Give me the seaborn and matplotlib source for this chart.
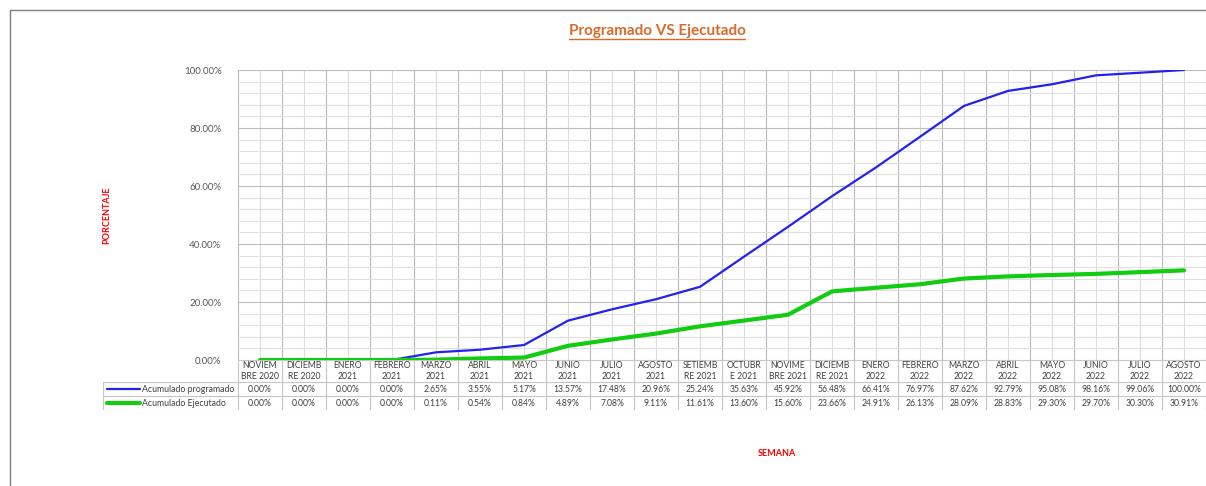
import matplotlib
matplotlib.use("Agg")
import matplotlib.pyplot as plt
from matplotlib.lines import Line2D
from matplotlib.ticker import MultipleLocator, FuncFormatter
import seaborn as sns
import pandas as pd
import numpy as np

# --- DATA ---
meses = ["NOVIEM\nBRE 2020", "DICIEMB\nRE 2020", "ENERO\n2021", "FEBRERO\n2021",
         "MARZO\n2021", "ABRIL\n2021", "MAYO\n2021", "JUNIO\n2021", "JULIO\n2021",
         "AGOSTO\n2021", "SETIEMB\nRE 2021", "OCTUBR\nE 2021", "NOVIME\nBRE 2021",
         "DICIEMB\nRE 2021", "ENERO\n2022", "FEBRERO\n2022", "MARZO\n2022",
         "ABRIL\n2022", "MAYO\n2022", "JUNIO\n2022", "JULIO\n2022", "AGOSTO\n2022"]
programado = [0.00, 0.00, 0.00, 0.00, 2.65, 3.55, 5.17, 13.57, 17.48, 20.96, 25.24,
              35.63, 45.92, 56.48, 66.41, 76.97, 87.62, 92.79, 95.08, 98.16, 99.06, 100.00]
ejecutado = [0.00, 0.00, 0.00, 0.00, 0.11, 0.54, 0.84, 4.89, 7.08, 9.11, 11.61,
             13.60, 15.60, 23.66, 24.91, 26.13, 28.09, 28.83, 29.30, 29.70, 30.30, 30.91]
series = ["Acumulado programado", "Acumulado Ejecutado"]
colores = ["#2222ee", "#11cc11"]

df = pd.DataFrame({"idx": np.arange(len(meses)), "prog": programado, "ejec": ejecutado})

sns.set_style("white")
plt.rcParams['font.family'] = ['Lato', 'DejaVu Sans']

W, H = 1206, 486
fig = plt.figure(figsize=(W / 100, H / 100), dpi=100)

def fx(px):
    return px / W

def fy(py):
    return 1 - py / H

# outer frame
fig.add_artist(Line2D([fx(10), fx(10)], [fy(10), 0], color="#7f7f7f", lw=1))
fig.add_artist(Line2D([fx(10), 1], [fy(10), fy(10)], color="#7f7f7f", lw=1))

# --- main chart ---
left_px, right_px, top_px, bot_px = 238, 1206, 70, 360
ax = fig.add_axes([fx(left_px), fy(bot_px), fx(right_px - left_px), (bot_px - top_px) / H])
n = len(meses)
ax.set_xlim(-0.5, n - 0.5)
ax.set_ylim(0, 100)

# grid
for k in range(n):
    ax.axvline(k, color="#dcdcdc", lw=0.8, zorder=0)
for k in range(n + 1):
    ax.axvline(k - 0.5, color="#b8b8b8", lw=0.8, zorder=0)
for v in np.arange(0, 101, 4):
    ax.axhline(v, color="#bdbdbd" if v % 20 == 0 else "#e0e0e0", lw=0.8, zorder=0)

sns.lineplot(data=df, x="idx", y="prog", color=colores[0], lw=1.6, ax=ax, zorder=3)
sns.lineplot(data=df, x="idx", y="ejec", color=colores[1], lw=3, ax=ax, zorder=3)

ax.yaxis.set_major_locator(MultipleLocator(20))
ax.yaxis.set_major_formatter(FuncFormatter(lambda v, p: f"{v:.2f}%"))
ax.tick_params(axis="y", length=0, pad=12, labelsize=7, labelcolor="#595959")
ax.set_xticks([])
ax.set_xlabel("")
ax.set_ylabel("")
for s in ax.spines.values():
    s.set_visible(False)

# --- data table ---
tab_left = 103
col_w = (right_px - left_px) / n
x0 = -0.5 - (left_px - tab_left) / col_w
axt = fig.add_axes([fx(tab_left), fy(410), fx(right_px - tab_left), 50 / H])
axt.set_xlim(x0, n - 0.5)
axt.set_ylim(50, 0)
axt.axis("off")
gc = "#c6c6c6"
axt.plot([-0.5, n - 0.5], [0, 0], color=gc, lw=0.8)
for yy in (22, 36, 50):
    axt.plot([x0, n - 0.5], [yy, yy], color=gc, lw=0.8)
for k in range(n + 1):
    axt.plot([k - 0.5, k - 0.5], [0, 50], color=gc, lw=0.8)
axt.plot([x0, x0], [22, 50], color=gc, lw=0.8)

for k, lab in enumerate(meses):
    axt.text(k, 11, lab, ha="center", va="center", fontsize=6.2, color="#404040",
             linespacing=1.35)
    axt.text(k, 29, f"{programado[k]:.2f}%", ha="center", va="center", fontsize=6.2,
             color="#404040")
    axt.text(k, 43, f"{ejecutado[k]:.2f}%", ha="center", va="center", fontsize=6.2,
             color="#404040")

for i, (nombre, c, lw) in enumerate(zip(series, colores, [1.6, 3])):
    yy = 29 + 14 * i
    axt.plot([x0 + 0.1, x0 + 0.85], [yy, yy], color=c, lw=lw)
    axt.text(x0 + 0.88, yy, nombre, ha="left", va="center", fontsize=6.3, color="#404040")

# --- titles ---
t = fig.text(fx(657), fy(31), "Programado VS Ejecutado", ha="center", va="center",
             fontsize=11, fontweight="bold", color="#d86a2a")
fig.canvas.draw()
bb = t.get_window_extent().transformed(fig.transFigure.inverted())
fig.add_artist(Line2D([bb.x0, bb.x1], [bb.y0 - 0.002, bb.y0 - 0.002], color="#d86a2a", lw=1))

fig.text(fx(107), fy(215), "PORCENTAJE", rotation=90, ha="center", va="center",
         fontsize=6.5, fontweight="bold", color="#ff0000")
fig.text(fx(777), fy(453), "SEMANA", ha="center", va="center",
         fontsize=6.5, fontweight="bold", color="#ff0000")

fig.savefig("out.png", dpi=100)
